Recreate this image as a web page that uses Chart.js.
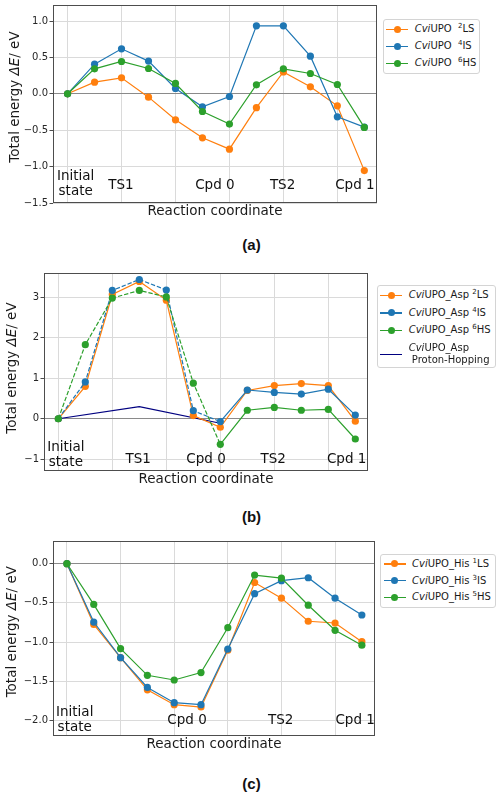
<!DOCTYPE html>
<html>
<head>
<meta charset="UTF-8">
<title>CviUPO energy profiles</title>
<script src="https://cdn.jsdelivr.net/npm/chart.js@4.4.0/dist/chart.umd.min.js"></script>
<style>
  body { margin: 0; background: #fff; }
  #page { position: relative; width: 503px; height: 794px; font-family: 'DejaVu Sans', sans-serif; }
  canvas { position: absolute; left: 0; }
  .legend { position: absolute; border: 1px solid #d4d4d4; border-radius: 3px; background: #fff;
            font-size: 10px; color: #1a1a1a; box-sizing: border-box; }
  .row { position: relative; white-space: nowrap; }
  .row .ln { position: absolute; left: 2.5px; width: 22px; height: 1.3px; }
  .row .dot { position: absolute; left: 10px; width: 7px; height: 7px; border-radius: 50%; }
  .row .tx { position: absolute; left: 31px; line-height: 12.5px; }
  sup { font-size: 7px; vertical-align: 4px; line-height: 0; }
  .cap { position: absolute; left: 0; width: 503px; text-align: center; line-height: 18px;
         font: bold 15px 'Liberation Sans', Arial, sans-serif; color: #111; }
</style>
</head>
<body>
<div id="page">
  <canvas id="chartA" width="503" height="220" style="top:0px"></canvas>
  <canvas id="chartB" width="503" height="228" style="top:260px"></canvas>
  <canvas id="chartC" width="503" height="223" style="top:530px"></canvas>
  <div class="cap" style="top:236px">(a)</div>
  <div class="cap" style="top:508px">(b)</div>
  <div class="cap" style="top:775px">(c)</div>
</div>

<script>
// reaction step index and vertical grid positions (shared by all panels)
const steps = [0, 1, 2, 3, 4, 5, 6, 7, 8, 9, 10, 11];
const xGrid = [0, 2, 4, 6, 8, 10];

// (a) CviUPO
const lsA = [0, 0.16, 0.22, -0.046, -0.357, -0.604, -0.76, -0.19, 0.30, 0.096, -0.165, -1.055];
const isA = [0, 0.407, 0.618, 0.449, 0.073, -0.178, -0.037, 0.934, 0.934, 0.517, -0.316, -0.458];
const hsA = [0, 0.343, 0.444, 0.348, 0.142, -0.243, -0.416, 0.124, 0.343, 0.279, 0.128, -0.462];
const yTicksA = [-1.5, -1.0, -0.5, 0.0, 0.5, 1.0];
const stagesA = [['Initial', 'state'], ['TS1'], ['Cpd 0'], ['TS2'], ['Cpd 1']];
const stageXA = [0.3, 1.98, 5.46, 7.97, 10.65];
const stageYA = [-1.243, -1.256, -1.256, -1.256, -1.256];

// (b) CviUPO_Asp
const lsB = [0, 0.80, 3.07, 3.39, 2.93, 0.08, -0.21, 0.70, 0.82, 0.87, 0.82, -0.06];
const isB = [0, 0.91, 3.17, 3.44, 3.18, 0.20, -0.07, 0.71, 0.65, 0.61, 0.73, 0.09];
const hsB = [0, 1.83, 2.98, 3.17, 3.01, 0.88, -0.63, 0.21, 0.28, 0.21, 0.23, -0.50];
const hopX = [0, 3, 6];
const hopY = [0, 0.30, -0.11];
const yTicksB = [-1, 0, 1, 2, 3];
const stagesB = [['Initial', 'state'], ['TS1'], ['Cpd 0'], ['TS2'], ['Cpd 1']];
const stageXB = [0.28, 2.96, 5.47, 7.96, 10.68];
const stageYB = [-0.90, -1.0, -1.0, -1.0, -1.0];

// (c) CviUPO_His
const lsC = [0, -0.775, -1.20, -1.61, -1.80, -1.83, -1.105, -0.24, -0.44, -0.735, -0.757, -0.995];
const isC = [0, -0.745, -1.20, -1.58, -1.775, -1.80, -1.09, -0.383, -0.217, -0.179, -0.44, -0.655];
const hsC = [0, -0.52, -1.085, -1.425, -1.485, -1.39, -0.817, -0.145, -0.183, -0.53, -0.85, -1.04];
const yTicksC = [-2.0, -1.5, -1.0, -0.5, 0.0];
const stagesC = [['Initial', 'state'], ['Cpd 0'], ['TS2'], ['Cpd 1']];
const stageXC = [0.29, 4.48, 7.97, 10.75];
const stageYC = [-1.99, -2.0, -2.0, -2.0];

const ORANGE = '#ff7f0e', BLUE = '#1f77b4', GREEN = '#2ca02c', NAVY = '#000080';
const FRAME = '#4d4d4d', GRID = '#dadada', ZERO = '#8a8a8a';

function series(values, color, order, dashTo) {
  return {
    data: steps.map((s, i) => ({ x: s, y: values[i] })),
    borderColor: color, backgroundColor: color,
    pointBackgroundColor: color, pointBorderWidth: 0,
    borderWidth: 1.2, pointRadius: 3.6, pointHoverRadius: 3.6,
    tension: 0, order: order,
    segment: dashTo ? { borderDash: c => c.p0DataIndex < dashTo ? [4.4, 1.9] : undefined } : undefined
  };
}

// stage names inside the plot, frame, and the y title with italic ΔE
const panelDecor = {
  id: 'panelDecor',
  beforeDatasetsDraw(chart, args, opts) {
    const { ctx, scales: { x, y } } = chart;
    ctx.save();
    ctx.font = '13.5px "DejaVu Sans"';
    ctx.fillStyle = '#111';
    ctx.textAlign = 'center';
    ctx.textBaseline = 'middle';
    opts.names.forEach((lines, i) => {
      const cx = x.getPixelForValue(opts.xs[i]);
      const cy = y.getPixelForValue(opts.ys[i]);
      lines.forEach((t, k) => ctx.fillText(t, cx, cy + (k - (lines.length - 1) / 2) * 15));
    });
    ctx.restore();
  },
  afterDraw(chart, args, opts) {
    const { ctx, chartArea: a } = chart;
    ctx.save();
    ctx.strokeStyle = FRAME;
    ctx.lineWidth = 1;
    ctx.strokeRect(Math.round(a.left) + 0.5, Math.round(a.top) + 0.5,
                   Math.round(a.right - a.left) - 1, Math.round(a.bottom - a.top) - 1);
    const parts = [['Total energy ', ''], ['ΔE', 'italic '], ['/ eV', '']];
    let w = 0;
    parts.forEach(p => { ctx.font = p[1] + '13.5px "DejaVu Sans"'; w += ctx.measureText(p[0]).width; });
    ctx.translate(opts.titleX, opts.titleY);
    ctx.rotate(-Math.PI / 2);
    ctx.fillStyle = '#1a1a1a';
    ctx.textBaseline = 'middle';
    let px = -w / 2;
    parts.forEach(p => {
      ctx.font = p[1] + '13.5px "DejaVu Sans"';
      ctx.fillText(p[0], px, 0);
      px += ctx.measureText(p[0]).width;
    });
    ctx.restore();
  }
};

function makePanel(id, cfg) {
  return new Chart(document.getElementById(id), {
    type: 'line',
    data: { datasets: cfg.datasets },
    options: {
      responsive: false,
      animation: false,
      events: [],
      layout: { padding: { top: cfg.top, right: cfg.right, left: 0, bottom: 0 } },
      scales: {
        x: {
          type: 'linear', min: cfg.xMin, max: cfg.xMax,
          afterBuildTicks: s => { s.ticks = xGrid.map(v => ({ value: v })); },
          afterFit: s => { s.height = 17; s.paddingLeft = 0; s.paddingRight = 0; },
          ticks: { display: false },
          grid: { color: GRID, lineWidth: 1, drawTicks: false },
          border: { display: false },
          title: { display: true, text: 'Reaction coordinate', color: '#1a1a1a', padding: 0,
                   font: { family: 'DejaVu Sans', size: 13.5 } }
        },
        y: {
          type: 'linear', min: cfg.yMin, max: cfg.yMax,
          afterBuildTicks: s => { s.ticks = cfg.yTicks.map(v => ({ value: v })); },
          afterFit: s => { s.width = cfg.left; s.paddingTop = 0; s.paddingBottom = 0; },
          ticks: {
            callback: v => v.toFixed(cfg.dec).replace('-', '\u2212'),
            color: '#262626', padding: 1.5, font: { family: 'DejaVu Sans', size: 10 }
          },
          grid: {
            color: c => (c.tick && c.tick.value === 0) ? ZERO : GRID,
            lineWidth: 1, tickColor: FRAME, tickLength: 3.5
          },
          border: { display: false }
        }
      },
      plugins: {
        legend: { display: false },
        tooltip: { enabled: false },
        panelDecor: { names: cfg.names, xs: cfg.xs, ys: cfg.ys, titleX: cfg.titleX, titleY: cfg.titleY }
      }
    },
    plugins: [panelDecor]
  });
}

makePanel('chartA', {
  datasets: [series(lsA, ORANGE, 2), series(isA, BLUE, 1), series(hsA, GREEN, 0)],
  top: 5, right: 126, left: 53, xMin: -0.54, xMax: 11.47,
  yMin: -1.5, yMax: 1.22, yTicks: yTicksA, dec: 1,
  names: stagesA, xs: stageXA, ys: stageYA, titleX: 15, titleY: 97
});

makePanel('chartB', {
  datasets: [
    series(lsB, ORANGE, 2), series(isB, BLUE, 1, 6), series(hsB, GREEN, 0, 6),
    { data: hopX.map((x, i) => ({ x: x, y: hopY[i] })), borderColor: NAVY, backgroundColor: NAVY,
      borderWidth: 1.2, pointRadius: 0, pointHoverRadius: 0, tension: 0, order: 3 }
  ],
  top: 13, right: 135, left: 44, xMin: -0.53, xMax: 11.47,
  yMin: -1.29, yMax: 3.6, yTicks: yTicksB, dec: 0,
  names: stagesB, xs: stageXB, ys: stageYB, titleX: 12.7, titleY: 108
});

makePanel('chartC', {
  datasets: [series(lsC, ORANGE, 2), series(isC, BLUE, 1), series(hsC, GREEN, 0)],
  top: 11, right: 128, left: 53, xMin: -0.52, xMax: 11.49,
  yMin: -2.2, yMax: 0.29, yTicks: yTicksC, dec: 1,
  names: stagesC, xs: stageXC, ys: stageYC, titleX: 12.7, titleY: 101.7
});

// legends (HTML so the italic prefix and spin superscripts render)
function makeLegend(box, entries) {
  const el = document.createElement('div');
  el.className = 'legend';
  Object.assign(el.style, { left: box.left + 'px', top: box.top + 'px', width: box.width + 'px',
                            height: box.height + 'px', paddingTop: box.padTop + 'px' });
  entries.forEach(e => {
    const h = e.lines * box.rowH - (e.lines - 1) * (box.rowH - 12.3);
    const row = document.createElement('div');
    row.className = 'row';
    row.style.height = h + 'px';
    const mid = h / 2;
    let html = '<span class="ln" style="top:' + (mid - 0.65) + 'px;background:' + e.color + '"></span>';
    if (e.marker) html += '<span class="dot" style="top:' + (mid - 3.5) + 'px;background:' + e.color + '"></span>';
    html += '<span class="tx" style="top:' + (mid - e.lines * 6.25) + 'px">' + e.html + '</span>';
    row.innerHTML = html;
    el.appendChild(row);
  });
  document.getElementById('page').appendChild(el);
}

const spinA = [['2', 'LS'], ['4', 'IS'], ['6', 'HS']];
const spinB = [['2', 'LS'], ['4', 'IS'], ['6', 'HS']];
const spinC = [['1', 'LS'], ['3', 'IS'], ['5', 'HS']];
const colours = [ORANGE, BLUE, GREEN];

makeLegend({ left: 382.7, top: 19, width: 97, height: 55, rowH: 17, padTop: 1 },
  spinA.map((s, i) => ({ color: colours[i], marker: true, lines: 1,
    html: '<i>Cvi</i>UPO&nbsp; <sup>' + s[0] + '</sup>' + s[1] })));

makeLegend({ left: 376.7, top: 285, width: 119, height: 83, rowH: 17.6, padTop: 0.5 },
  spinB.map((s, i) => ({ color: colours[i], marker: true, lines: 1,
    html: '<i>Cvi</i>UPO_Asp <sup>' + s[0] + '</sup>' + s[1] }))
  .concat([{ color: NAVY, marker: false, lines: 2,
    html: '<i>Cvi</i>UPO_Asp<br>&nbsp;Proton-Hopping' }]));

makeLegend({ left: 380, top: 554, width: 116, height: 54, rowH: 16.9, padTop: 0.5 },
  spinC.map((s, i) => ({ color: colours[i], marker: true, lines: 1,
    html: '<i>Cvi</i>UPO_His <sup>' + s[0] + '</sup>' + s[1] })));
</script>
</body>
</html>
